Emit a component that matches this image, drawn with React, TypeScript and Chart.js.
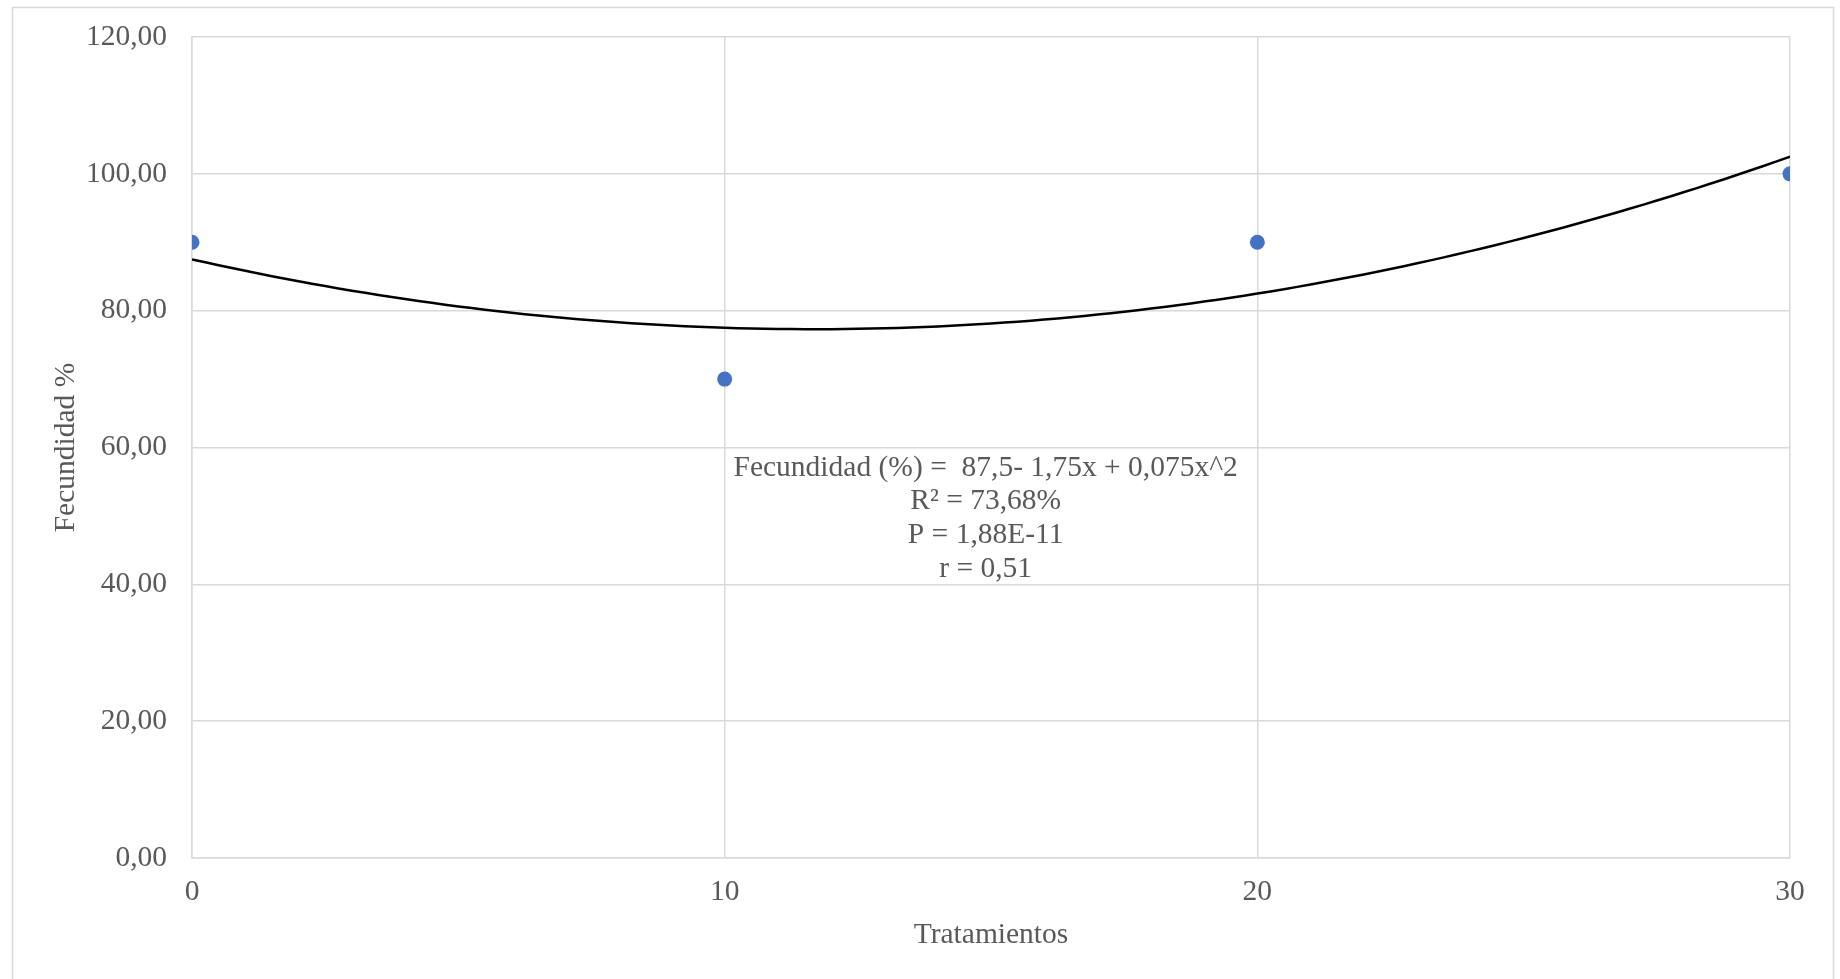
import React, { useEffect, useRef } from "react";
import { Chart, registerables } from "chart.js";

Chart.register(...registerables);

// Observed treatments and fecundity
const treatments = [0, 10, 20, 30];
const fecundity = [90, 70, 90, 100];

// Quadratic fit: a + b*x + c*x^2
const fitCoefficients = [87.5, -1.75, 0.075];

const yTicks = [0, 20, 40, 60, 80, 100, 120];
const xTicks = [0, 10, 20, 30];

const annotationLines = [
  "Fecundidad (%) =  87,5- 1,75x + 0,075x^2",
  "R² = 73,68%",
  "P = 1,88E-11",
  "r = 0,51",
];

const FONT = "'Liberation Serif', 'Times New Roman', serif";
const TEXT = "#595959";
const GRID = "#d9d9d9";
const SIZE = 29.5;

function fitCurve() {
  const pts: { x: number; y: number }[] = [];
  const [a, b, c] = fitCoefficients;
  const x0 = xTicks[0];
  const x1 = xTicks[xTicks.length - 1];
  const steps = 120;
  for (let i = 0; i <= steps; i++) {
    const x = x0 + ((x1 - x0) * i) / steps;
    pts.push({ x, y: a + b * x + c * x * x });
  }
  return pts;
}

const frame = {
  id: "frame",
  beforeDraw(chart: any) {
    const { ctx } = chart;
    ctx.save();
    ctx.fillStyle = "#ffffff";
    ctx.fillRect(0, 0, chart.width, chart.height);
    ctx.strokeStyle = GRID;
    ctx.lineWidth = 1.5;
    ctx.strokeRect(12.5, 7.5, 1821, 1000);
    ctx.restore();
  },
};

const equationLabel = {
  id: "equationLabel",
  afterDatasetsDraw(chart: any) {
    const { ctx, scales } = chart;
    const cx = scales.x.getPixelForValue(14.9);
    const y0 = scales.y.getPixelForValue(57);
    ctx.save();
    ctx.font = `${SIZE}px ${FONT}`;
    ctx.fillStyle = TEXT;
    ctx.textAlign = "center";
    ctx.textBaseline = "middle";
    annotationLines.forEach((line, i) => {
      ctx.fillText(line, cx, y0 + i * 33.6);
    });
    ctx.restore();
  },
};

export default function App() {
  const ref = useRef<HTMLCanvasElement | null>(null);

  useEffect(() => {
    if (!ref.current) return;
    const chart = new Chart(ref.current, {
      type: "scatter",
      data: {
        datasets: [
          {
            label: "Ajuste",
            data: fitCurve(),
            showLine: true,
            borderColor: "#000000",
            borderWidth: 2.5,
            pointRadius: 0,
            tension: 0,
            order: 2,
          },
          {
            label: "Fecundidad",
            data: treatments.map((x, i) => ({ x, y: fecundity[i] })),
            showLine: false,
            backgroundColor: "#4472C4",
            borderColor: "#4472C4",
            borderWidth: 0,
            pointRadius: 7.5,
            order: 1,
          },
        ],
      },
      options: {
        responsive: false,
        animation: false,
        events: [],
        layout: { padding: { left: 0, top: 37, right: 50, bottom: 0 } },
        plugins: {
          legend: { display: false },
          tooltip: { enabled: false },
        },
        scales: {
          x: {
            type: "linear",
            min: 0,
            max: 30,
            afterBuildTicks: (scale: any) => {
              scale.ticks = xTicks.map((v) => ({ value: v }));
            },
            afterFit: (scale: any) => {
              scale.height = 121;
              scale.paddingLeft = 0;
              scale.paddingRight = 0;
            },
            grid: { color: GRID, lineWidth: 1.5, drawTicks: false },
            border: { color: GRID, width: 1.5 },
            ticks: {
              padding: 17,
              color: TEXT,
              font: { family: FONT, size: SIZE },
              callback: (v: any) => String(v),
            },
            title: {
              display: true,
              text: "Tratamientos",
              color: TEXT,
              font: { family: FONT, size: SIZE },
              padding: { top: 0, bottom: 26 },
            },
          },
          y: {
            type: "linear",
            min: 0,
            max: 120,
            afterBuildTicks: (scale: any) => {
              scale.ticks = yTicks.map((v) => ({ value: v }));
            },
            afterFit: (scale: any) => {
              scale.width = 192;
              scale.paddingTop = 0;
              scale.paddingBottom = 0;
            },
            grid: { color: GRID, lineWidth: 1.5, drawTicks: false },
            border: { color: GRID, width: 1.5 },
            ticks: {
              padding: 25,
              color: TEXT,
              font: { family: FONT, size: SIZE },
              callback: (v: any) => Number(v).toFixed(2).replace(".", ","),
            },
            title: {
              display: true,
              text: "Fecundidad %",
              color: TEXT,
              font: { family: FONT, size: SIZE },
              padding: { top: 49, bottom: 0 },
            },
          },
        },
      },
      plugins: [frame, equationLabel],
    });
    return () => chart.destroy();
  }, []);

  return (
    <div style={{ position: "fixed", left: 0, top: 0, width: 1840, height: 979 }}>
      <canvas ref={ref} width={1840} height={979} style={{ display: "block", width: 1840, height: 979 }} />
    </div>
  );
}
